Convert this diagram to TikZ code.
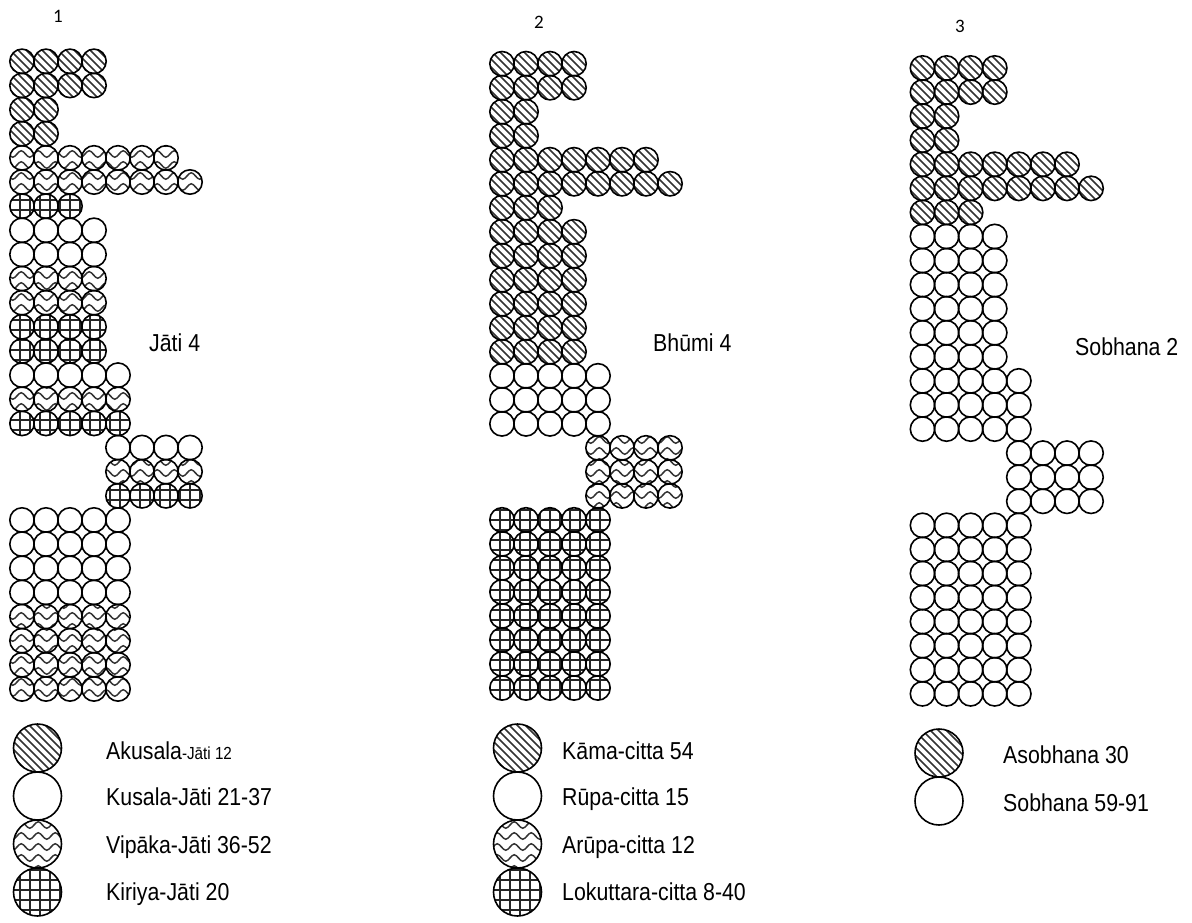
\documentclass[tikz,border=0pt]{standalone}
\usepackage{fontspec}
\setmainfont{Liberation Sans}[FakeStretch=0.87]
\newfontfamily\numfont{Carlito}
\newcommand\drawcol[6]{%
  \foreach \r/\s/\n/\t in {#6} {
    \foreach \k in {1,...,\n} {
      \pgfmathsetmacro\cx{#2+(\s+\k-1)*#4}
      \pgfmathsetmacro\cy{#3+(\r-1)*#5}
      \node[cell,\t] (#1-\r-\k) at (\cx,\cy) {};
    }
  }}
\newcommand\legcirc[4]{\def\cx{#2}\def\cy{#3}\node[big,#4] (#1) at (#2,#3) {};}
\begin{document}
\begin{tikzpicture}[x=1pt,y=-1pt,
  cell/.style={circle,draw,line width=1.6pt,inner sep=0pt,minimum size=24.4pt},
  big/.style={circle,draw,line width=1.6pt,inner sep=0pt,minimum size=48pt},
  stripe/.style={line width=1.6pt,black!80},
  wave/.style={line width=1.5pt,black!80},
  gline/.style={line width=1.8pt,black!85},
  lab/.style={inner sep=0pt,font=\fontsize{24.5}{29}\selectfont},
  num/.style={inner sep=0pt,font=\numfont\fontsize{19}{22}\selectfont},
  aku/.style={path picture={
    \begin{scope}[shift={(path picture bounding box.center)}]
      \pgfmathsetmacro\ph{mod(\cx-\cy,8)}
      \foreach \j in {-8,...,8}{\draw[stripe] ({8*\j-\ph-30},-30) -- ({8*\j-\ph+30},30);}
    \end{scope}}},
  vip/.style={path picture={
    \begin{scope}[shift={(path picture bounding box.center)}]
      \pgfmathsetmacro\phx{mod(\cx,17)}
      \pgfmathsetmacro\phy{mod(\cy,11)}
      \foreach \j in {-3,...,3}{
        \draw[wave] ({-51-\phx},{11*\j-\phy}) \foreach \q in {1,...,7}{ sin ++(4.25,-3.2) cos ++(4.25,3.2) sin ++(4.25,3.2) cos ++(4.25,-3.2)};
      }
    \end{scope}}},
  kir/.style={path picture={
    \begin{scope}[shift={(path picture bounding box.center)}]
      \pgfmathsetmacro\phx{mod(\cx,10)}
      \pgfmathsetmacro\phy{mod(\cy,10)}
      \foreach \j in {-3,...,3}{
        \draw[gline] ({10*\j-\phx},-30) -- ({10*\j-\phx},30);
        \draw[gline] (-30,{10*\j-\phy}) -- (30,{10*\j-\phy});
      }
    \end{scope}}},
  kus/.style={}
]
\fill[white] (0,0) rectangle (1192,922);
\useasboundingbox (0,0) rectangle (1192,922);

% column numbers
\node[num,anchor=base] (n1) at (58,22) {1};
\node[num,anchor=base] (n2) at (539,28) {2};
\node[num,anchor=base] (n3) at (960,32) {3};

% column 1: Jati
\drawcol{a}{22}{61.3}{24.0}{24.14}{1/0/4/aku,2/0/4/aku,3/0/2/aku,4/0/2/aku,5/0/7/vip,6/0/8/vip,7/0/3/kir,8/0/4/kus,9/0/4/kus,10/0/4/vip,11/0/4/vip,12/0/4/kir,13/0/4/kir,14/0/5/kus,15/0/5/vip,16/0/5/kir,17/4/4/kus,18/4/4/vip,19/4/4/kir,20/0/5/kus,21/0/5/kus,22/0/5/kus,23/0/5/kus,24/0/5/vip,25/0/5/vip,26/0/5/vip,27/0/5/vip}

% column 2: Bhumi
\drawcol{b}{502}{63.7}{24.0}{24.01}{1/0/4/aku,2/0/4/aku,3/0/2/aku,4/0/2/aku,5/0/7/aku,6/0/8/aku,7/0/3/aku,8/0/4/aku,9/0/4/aku,10/0/4/aku,11/0/4/aku,12/0/4/aku,13/0/4/aku,14/0/5/kus,15/0/5/kus,16/0/5/kus,17/4/4/vip,18/4/4/vip,19/4/4/vip,20/0/5/kir,21/0/5/kir,22/0/5/kir,23/0/5/kir,24/0/5/kir,25/0/5/kir,26/0/5/kir,27/0/5/kir}

% column 3: Sobhana
\drawcol{c}{922.5}{68}{24.08}{24.07}{1/0/4/aku,2/0/4/aku,3/0/2/aku,4/0/2/aku,5/0/7/aku,6/0/8/aku,7/0/3/aku,8/0/4/kus,9/0/4/kus,10/0/4/kus,11/0/4/kus,12/0/4/kus,13/0/4/kus,14/0/5/kus,15/0/5/kus,16/0/5/kus,17/4/4/kus,18/4/4/kus,19/4/4/kus,20/0/5/kus,21/0/5/kus,22/0/5/kus,23/0/5/kus,24/0/5/kus,25/0/5/kus,26/0/5/kus,27/0/5/kus}

% side labels
\node[lab,anchor=base west] (jati) at (149,351) {Jāti 4};
\node[lab,anchor=base west] (bhumi) at (653,351) {Bhūmi 4};
\node[lab,anchor=base west] (sobh) at (1075,355) {Sobhana 2};

% legend 1
\legcirc{la1}{37.5}{748}{aku}
\legcirc{la2}{37.5}{796}{kus}
\legcirc{la3}{37.5}{844}{vip}
\legcirc{la4}{37.5}{892}{kir}
\node[lab,anchor=base west] (ta1) at (106,759) {Akusala{\fontsize{17.5}{20}\selectfont-Jāti 12}};
\node[lab,anchor=base west] (ta2) at (106,805) {Kusala-Jāti 21-37};
\node[lab,anchor=base west] (ta3) at (106,853) {Vipāka-Jāti 36-52};
\node[lab,anchor=base west] (ta4) at (106,900) {Kiriya-Jāti 20};

% legend 2
\legcirc{lb1}{517.5}{748}{aku}
\legcirc{lb2}{517.5}{796}{kus}
\legcirc{lb3}{517.5}{844}{vip}
\legcirc{lb4}{517.5}{892}{kir}
\node[lab,anchor=base west] (tb1) at (562,759) {Kāma-citta 54};
\node[lab,anchor=base west] (tb2) at (562,805) {Rūpa-citta 15};
\node[lab,anchor=base west] (tb3) at (562,853) {Arūpa-citta 12};
\node[lab,anchor=base west] (tb4) at (562,900) {Lokuttara-citta 8-40};

% legend 3
\legcirc{lc1}{939}{753}{aku}
\legcirc{lc2}{939}{801}{kus}
\node[lab,anchor=base west] (tc1) at (1003,763) {Asobhana 30};
\node[lab,anchor=base west] (tc2) at (1003,811) {Sobhana 59-91};
\end{tikzpicture}
\end{document}
